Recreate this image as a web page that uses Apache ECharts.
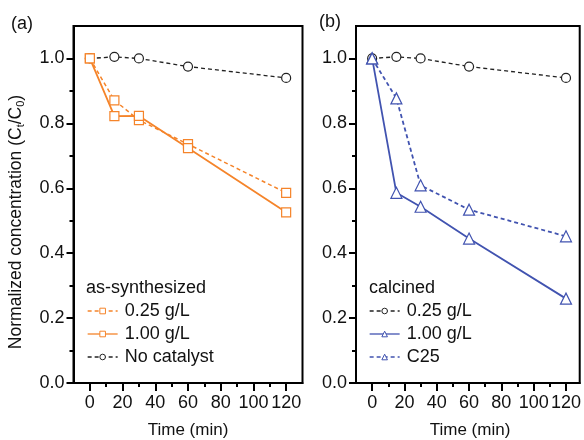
<!DOCTYPE html>
<html><head><meta charset="utf-8">
<script src="https://cdn.jsdelivr.net/npm/echarts@6/dist/echarts.min.js"></script>
<style>html,body{margin:0;padding:0;background:#fff}#c{width:584px;height:440px}</style>
</head><body><div id="c"></div>
<script>
const times = [0, 15, 30, 60, 120];
// panel (a) as-synthesized
const a_025 = [1.0, 0.871, 0.81, 0.736, 0.586];
const a_100 = [1.0, 0.822, 0.823, 0.724, 0.526];
const a_none = [1.0, 1.005, 1.0, 0.975, 0.94];
// panel (b) calcined
const b_025 = [1.0, 1.005, 1.0, 0.975, 0.94];
const b_100 = [1.0, 0.586, 0.543, 0.445, 0.26];
const b_c25 = [1.0, 0.877, 0.609, 0.534, 0.452];
const xMajor = [0, 20, 40, 60, 80, 100, 120];
const xMinor = [10, 30, 50, 70, 90, 110];
const yMajor = [0, 0.2, 0.4, 0.6, 0.8, 1.0];
const yMinor = [0.1, 0.3, 0.5, 0.7, 0.9];

const FONT = 'Liberation Sans, Arial, sans-serif';
const ORANGE = '#f5842a';
const BLUE = '#4153b0';
const BLACK = '#111';
const FS = 18;
const pair = v => times.map((t, i) => [t, v[i]]);

const grids = [
  {left: 73.5, top: 26, width: 229, height: 357, show: true, borderColor: '#000', borderWidth: 2},
  {left: 356, top: 26, width: 226, height: 357, show: true, borderColor: '#000', borderWidth: 2}
];
const xr = [[-10, 130], [-10, 128.5]];
const xAxis = [], yAxis = [];
[0, 1].forEach(g => {
  xAxis.push({
    gridIndex: g, type: 'value', min: xr[g][0], max: xr[g][1], position: 'bottom', offset: 0,
    axisLine: {show: true, onZero: false, lineStyle: {color: '#000', width: 2}},
    axisTick: {show: true, customValues: xMajor, length: 8, lineStyle: {color: '#000', width: 2}},
    axisLabel: {customValues: xMajor, margin: 11, fontSize: FS, fontFamily: FONT, color: BLACK},
    splitLine: {show: false}
  });
  xAxis.push({
    gridIndex: g, type: 'value', min: xr[g][0], max: xr[g][1], position: 'bottom', offset: 0,
    axisLine: {show: false, onZero: false},
    axisTick: {show: true, customValues: xMinor, length: 4, lineStyle: {color: '#000', width: 2}},
    axisLabel: {show: false}, splitLine: {show: false}
  });
  yAxis.push({
    gridIndex: g, type: 'value', min: 0, max: 1.1, position: 'left', offset: 0,
    axisLine: {show: true, onZero: false, lineStyle: {color: '#000', width: 2}},
    axisTick: {show: true, customValues: yMajor, length: 7, lineStyle: {color: '#000', width: 2}},
    axisLabel: {customValues: yMajor, margin: 9, fontSize: FS, fontFamily: FONT, color: BLACK,
      formatter: v => v.toFixed(1)},
    splitLine: {show: false}
  });
  yAxis.push({
    gridIndex: g, type: 'value', min: 0, max: 1.1, position: 'left', offset: 0,
    axisLine: {show: false, onZero: false},
    axisTick: {show: true, customValues: yMinor, length: 4, lineStyle: {color: '#000', width: 2}},
    axisLabel: {show: false}, splitLine: {show: false}
  });
});

function ser(name, data, g, color, dash, symbol, width) {
  return {
    name, type: 'line', data: pair(data), xAxisIndex: g * 2, yAxisIndex: g * 2,
    symbol, symbolSize: symbol === 'triangle' ? 11 : 9,
    itemStyle: {color: '#fff', borderColor: color, borderWidth: 1.2},
    lineStyle: {color, width: width, type: dash ? [4, 3] : 'solid'},
    emphasis: {disabled: true}, animation: false, z: 3
  };
}
const series = [
  ser('No catalyst', a_none, 0, '#222', true, 'circle', 1.3),
  ser('0.25 g/L', a_025, 0, ORANGE, true, 'rect', 1.5),
  ser('1.00 g/L', a_100, 0, ORANGE, false, 'rect', 1.8),
  ser('0.25 g/L ', b_025, 1, '#222', true, 'circle', 1.3),
  ser('1.00 g/L ', b_100, 1, BLUE, false, 'triangle', 1.8),
  ser('C25', b_c25, 1, BLUE, true, 'triangle', 1.8)
];

const legendCommon = {
  orient: 'vertical', itemWidth: 30, itemHeight: 7, itemGap: 5,
  itemStyle: {borderWidth: 1},
  lineStyle: {width: 1.3},
  textStyle: {fontSize: FS, fontFamily: FONT, color: BLACK, padding: [0, 0, 0, 2]},
  formatter: n => n.trim(), selectedMode: false, padding: 0
};

const chart = echarts.init(document.getElementById('c'), null, {renderer: 'canvas'});
chart.setOption({
  animation: false,
  backgroundColor: '#fff',
  grid: grids, xAxis, yAxis, series,
  legend: [
    Object.assign({left: 87, top: 302, data: ['0.25 g/L', '1.00 g/L', 'No catalyst']}, legendCommon),
    Object.assign({left: 369, top: 302, data: ['0.25 g/L ', '1.00 g/L ', 'C25']}, legendCommon)
  ],
  graphic: [
    {type: 'text', left: 11, top: 15, style: {text: '(a)', fontSize: 18, fontFamily: FONT, fill: BLACK}},
    {type: 'text', left: 319, top: 13, style: {text: '(b)', fontSize: 18, fontFamily: FONT, fill: BLACK}},
    {type: 'text', left: 86, top: 279, style: {text: 'as-synthesized', fontSize: FS, fontFamily: FONT, fill: BLACK}},
    {type: 'text', left: 369, top: 279, style: {text: 'calcined', fontSize: FS, fontFamily: FONT, fill: BLACK}},
    {type: 'text', x: 188, y: 430, style: {text: 'Time (min)', fontSize: 17, fontFamily: FONT, fill: BLACK, align: 'center', verticalAlign: 'middle'}},
    {type: 'text', x: 470, y: 430, style: {text: 'Time (min)', fontSize: 17, fontFamily: FONT, fill: BLACK, align: 'center', verticalAlign: 'middle'}},
    {type: 'text', x: 16, y: 222, rotation: Math.PI / 2,
      style: {text: 'Normalized concentration (C{s|t}/C{s|0})', fontSize: 17.5, fontFamily: FONT, fill: BLACK,
        align: 'center', verticalAlign: 'middle',
        rich: {s: {fontSize: 11, fontFamily: FONT, fill: BLACK, padding: [9, 0, 0, 0]}}}}
  ]
});
</script></body></html>
